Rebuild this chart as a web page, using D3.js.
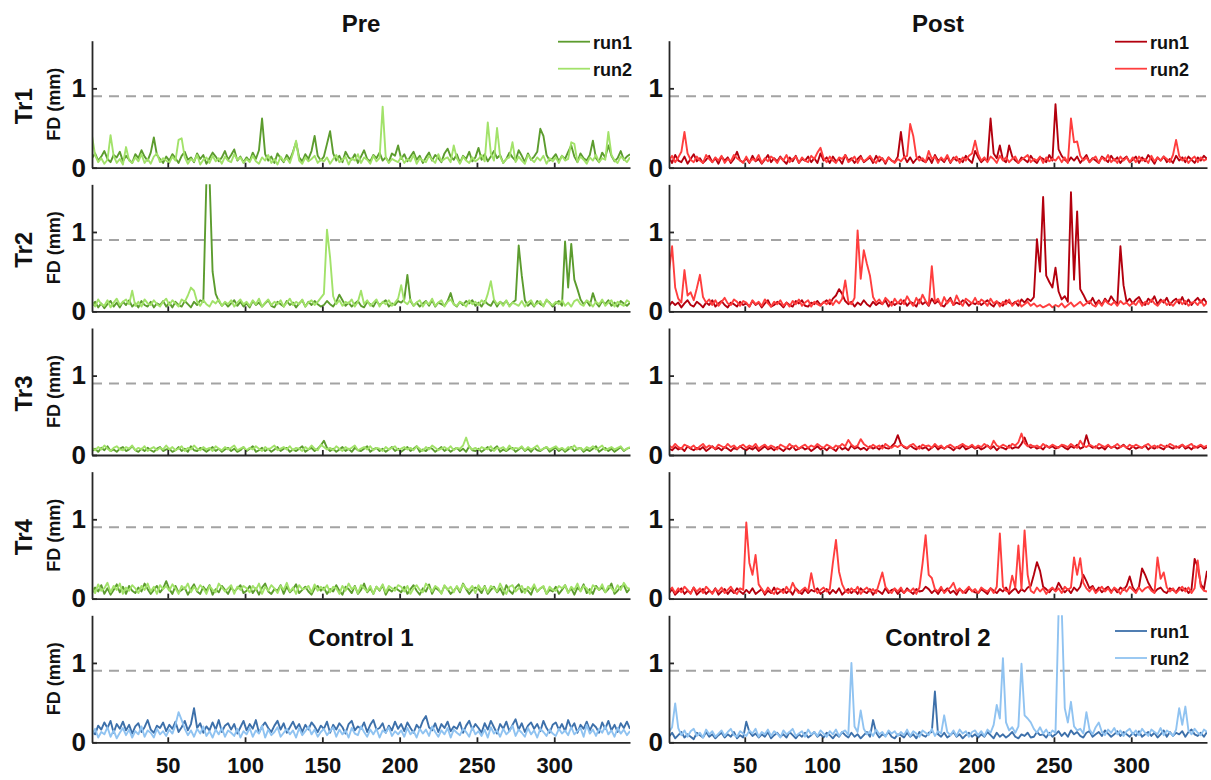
<!DOCTYPE html>
<html>
<head>
<meta charset="utf-8">
<script src="https://cdn.jsdelivr.net/npm/d3@7"></script>
<style>
  body { margin: 0; background: #fff; }
  svg { display: block; font-family: 'Liberation Sans', Arial, Helvetica, sans-serif; font-weight: bold; }
</style>
</head>
<body>
<svg id="chart" width="1211" height="780"></svg>
<script>
// framewise displacement, sampled every 2nd volume (1, 3, ... 349)
// values are in 1/100 mm
const frames = d3.range(1, 350, 2)

const preTr1Run1 = [
  12,18,9,14,21,11,7,16,13,20,8,15,10,6,17,12,22,14,9,19,38,16,11,6,14,
  9,17,12,6,15,20,10,13,7,18,11,16,5,12,19,14,8,13,21,10,16,23,9,14,7,
  13,8,19,11,22,62,17,9,14,6,18,12,7,16,10,20,32,13,8,17,11,21,40,15,9,
  14,30,46,18,9,15,7,20,13,10,17,6,14,22,11,8,16,12,19,9,13,7,18,15,28,
  11,17,8,14,20,10,15,6,13,19,9,16,12,7,18,24,14,10,17,6,15,11,20,8,13,
  25,10,17,8,14,21,12,16,6,11,19,13,9,22,15,7,18,10,14,20,49,40,16,9,12,
  17,8,15,11,20,28,14,7,18,12,9,16,34,12,7,19,13,28,15,8,12,21,10,14,17]
const preTr1Run2 = [
  40,16,7,12,5,10,41,15,6,11,4,26,9,6,13,8,17,6,11,5,14,18,7,12,9,
  6,14,9,35,37,13,5,11,8,16,4,10,13,6,15,8,12,5,14,9,7,17,10,13,6,
  11,7,15,8,5,13,9,16,6,11,4,14,8,12,6,18,34,9,5,13,8,11,15,6,10,
  8,13,5,11,16,7,10,14,4,12,9,17,6,13,10,5,15,8,12,77,13,6,11,9,7,
  14,6,11,8,16,5,12,9,7,15,10,6,17,8,11,13,7,28,12,5,14,9,6,13,8,
  11,16,8,57,18,9,50,14,6,11,13,32,7,14,9,5,16,11,7,13,9,15,5,12,8,
  13,6,15,9,11,32,30,7,14,10,5,13,9,16,7,12,10,45,16,9,6,14,11,7,13]
const postTr1Run1 = [
  13,6,16,9,7,14,5,11,17,8,12,6,10,15,7,12,5,14,9,13,6,11,20,9,7,
  12,6,15,8,11,5,10,16,7,12,8,14,9,5,13,8,15,6,11,9,14,7,12,6,18,
  9,13,6,14,8,11,5,16,9,12,6,11,15,7,10,13,6,15,8,12,5,13,9,7,14,
  45,15,7,13,6,11,14,9,7,13,6,16,9,11,7,14,6,13,9,11,7,15,10,6,21,
  13,7,11,9,62,18,12,28,10,7,28,14,9,6,13,10,7,15,9,6,13,11,7,16,9,
  80,23,15,10,7,13,9,14,6,11,16,7,12,9,6,14,11,7,15,9,13,6,11,14,7,
  10,14,6,13,8,16,11,5,13,9,14,7,11,6,15,9,13,7,14,10,6,13,9,15,11]
const postTr1Run2 = [
  9,15,7,13,20,45,18,10,7,14,9,6,16,11,7,13,9,15,6,11,8,16,12,9,6,
  14,7,11,9,16,6,12,8,14,11,6,13,9,16,7,11,14,6,13,9,7,15,11,19,25,
  12,7,14,9,6,13,11,16,7,10,14,6,13,8,11,15,9,6,14,11,7,13,9,6,11,
  8,13,15,55,40,14,9,12,7,21,11,14,6,13,9,16,7,11,14,6,13,9,15,18,34,
  17,9,13,7,14,11,6,15,9,13,7,11,14,6,10,13,16,7,11,9,14,6,13,8,11,
  9,14,7,13,6,62,32,33,15,9,13,7,11,14,6,13,9,16,7,11,6,14,9,13,7,
  13,7,14,9,11,6,15,8,13,9,14,11,7,16,35,15,9,13,6,11,14,7,13,9,11]

const preTr2Run1 = [
  7,12,5,10,4,9,13,6,11,5,12,8,14,6,10,5,13,8,6,12,5,10,8,13,6,
  11,5,12,8,6,13,9,5,12,8,14,12,165,170,50,22,13,7,11,6,10,14,7,12,6,
  10,5,13,8,11,6,10,14,7,5,12,9,6,13,8,11,5,10,14,6,12,8,13,9,6,
  8,13,9,6,12,21,14,7,11,6,10,13,7,5,12,9,6,13,8,11,14,6,10,8,13,
  11,15,46,13,7,11,6,10,13,7,14,6,11,9,7,13,23,9,6,12,8,13,10,14,7,
  11,6,13,9,7,14,6,12,9,13,7,11,14,83,45,14,7,11,6,13,9,7,14,11,6,
  10,13,7,88,30,85,40,28,15,9,13,7,23,11,6,13,9,14,7,11,6,13,10,7,11]
const preTr2Run2 = [
  12,6,15,9,7,14,5,11,16,8,12,15,9,26,7,12,6,15,10,8,14,9,6,12,16,
  8,14,10,6,15,12,20,30,26,12,7,14,9,6,13,10,15,7,12,9,14,6,11,15,9,
  12,7,14,9,16,6,11,15,8,12,9,14,6,11,16,8,12,9,15,6,11,14,8,12,17,
  22,103,68,19,9,14,7,12,10,15,6,12,26,9,14,7,11,15,6,12,9,14,7,11,16,
  33,12,9,15,7,11,14,6,12,9,16,7,11,14,6,12,15,9,7,12,10,6,14,9,12,
  8,14,10,22,38,15,9,12,7,14,6,11,9,7,13,6,11,14,7,10,13,6,15,10,8,
  12,9,14,7,11,6,13,15,9,7,14,11,6,12,9,15,7,11,14,6,12,9,7,14,11]
const postTr2Run1 = [
  7,12,8,11,5,10,14,8,6,12,9,5,11,8,14,6,10,13,8,5,11,9,6,12,8,
  10,6,13,8,11,5,10,14,6,8,12,9,5,11,8,6,13,10,14,7,6,11,9,13,8,
  11,14,9,16,20,28,22,13,9,12,6,11,8,14,9,6,12,8,11,9,14,6,12,8,11,
  9,14,7,12,10,6,15,9,12,7,16,10,13,8,6,12,17,8,11,9,14,12,7,11,9,
  12,8,11,14,9,6,12,10,7,14,11,9,12,7,15,11,16,13,18,91,50,144,45,37,30,
  55,25,15,19,12,150,40,126,28,21,13,10,17,9,14,8,16,11,19,13,9,82,33,12,16,
  10,15,18,11,8,16,12,19,9,15,11,17,8,13,16,10,18,9,15,8,13,17,11,16,10]
const postTr2Run2 = [
  50,82,30,16,11,52,20,24,14,29,46,18,11,15,8,14,7,12,17,10,8,15,12,7,13,
  11,6,14,9,12,7,15,10,6,12,9,14,7,11,6,13,9,15,7,11,14,6,12,9,7,
  12,9,15,8,14,10,16,39,12,9,17,102,41,77,60,45,18,11,15,9,17,13,7,16,10,
  15,9,19,12,7,17,10,21,13,8,57,12,16,7,18,10,15,8,20,12,7,16,13,10,17,
  9,15,12,7,16,10,13,6,12,9,15,7,11,14,6,9,12,7,10,6,8,5,7,9,5,
  8,6,10,5,8,11,6,9,12,7,10,13,8,6,12,7,14,10,8,12,7,13,9,11,7,
  11,8,14,7,12,9,15,10,7,12,14,8,11,7,12,15,9,13,7,11,12,8,14,7,11]

const preTr3Run1 = [
  5,8,4,9,6,11,5,7,4,8,10,5,7,11,6,4,8,5,9,6,4,8,10,5,7,
  8,4,6,10,5,8,4,11,6,5,9,7,4,7,10,5,8,4,7,9,5,8,4,6,10,
  5,8,11,4,6,9,5,8,4,7,10,5,8,9,4,7,5,8,11,4,7,9,5,8,12,
  18,9,5,8,4,7,10,5,8,4,9,6,5,8,11,4,7,9,5,8,4,7,10,5,8,
  4,7,10,5,8,11,4,7,5,9,8,4,7,10,5,8,4,7,9,5,8,4,11,6,5,
  8,4,7,10,5,8,11,4,7,5,8,9,4,7,10,5,8,4,9,6,5,8,10,4,7,
  9,5,8,4,7,10,5,8,9,4,7,5,8,11,4,7,9,5,8,4,7,10,5,8,9]
const preTr3Run2 = [
  9,6,10,7,12,8,5,9,11,7,6,10,8,12,6,9,7,11,5,8,10,6,9,7,12,
  7,10,6,8,11,5,9,7,12,8,6,10,7,9,5,11,8,6,10,7,9,12,6,8,10,
  6,9,7,11,8,5,10,7,9,12,6,8,10,7,11,6,9,8,5,10,7,12,8,6,13,
  10,7,9,6,11,8,5,10,7,9,12,6,8,10,7,11,6,9,8,5,10,7,9,11,6,
  8,10,7,9,6,11,8,5,10,7,12,9,6,8,10,7,11,6,9,8,12,22,10,7,9,
  6,10,8,7,11,5,9,8,10,6,12,7,9,8,11,6,10,7,9,12,6,8,10,7,9,
  11,7,9,6,10,8,12,7,9,6,10,8,11,7,9,12,6,8,10,7,9,11,6,8,10]
const postTr3Run1 = [
  8,6,10,7,9,5,11,8,6,9,7,10,5,8,11,7,9,6,10,8,5,9,7,11,8,
  6,9,7,10,5,8,11,7,9,6,10,8,5,9,7,11,6,8,10,7,9,5,8,11,7,
  9,6,10,8,5,11,7,9,6,12,8,10,7,9,6,11,8,10,7,12,9,8,11,15,25,
  14,10,8,12,9,7,11,8,10,6,9,12,7,10,8,11,9,6,10,8,12,7,9,11,8,
  10,7,9,12,8,11,6,10,9,7,12,8,10,9,14,22,12,9,11,8,10,7,12,9,11,
  8,10,12,9,7,11,9,13,8,10,25,12,9,11,8,10,7,12,9,11,8,10,13,9,7,
  11,8,10,9,12,7,10,8,11,9,7,12,10,8,11,9,13,8,10,7,11,9,12,8,10]
const postTr3Run2 = [
  12,9,14,10,8,13,11,9,12,7,11,14,9,12,10,8,13,11,9,14,10,12,8,11,13,
  9,12,10,14,8,11,13,9,12,10,7,13,11,9,14,10,12,8,11,13,9,12,10,14,11,
  9,13,11,8,12,10,14,11,19,13,10,12,20,14,11,9,13,10,12,8,14,11,9,12,10,
  13,11,9,12,14,10,8,13,11,12,9,14,10,12,8,11,13,10,9,12,14,11,10,13,9,
  12,10,14,11,9,18,12,10,13,11,9,14,12,16,27,15,11,13,10,12,9,14,11,10,13,
  11,9,13,12,10,14,11,9,18,12,10,13,11,9,14,12,10,13,9,11,14,10,12,9,13,
  10,13,11,9,12,14,10,12,9,13,11,10,14,12,9,11,13,10,12,14,9,11,13,10,12]

const preTr4Run1 = [
  7,14,9,17,6,13,5,11,18,8,15,6,16,10,7,14,9,19,12,6,11,16,8,13,22,
  12,6,16,8,11,14,5,12,18,9,6,15,10,17,5,12,8,16,11,6,14,9,13,17,7,
  10,16,7,13,5,14,19,9,6,12,10,17,6,15,8,12,18,7,11,15,9,5,13,16,10,
  14,6,12,9,17,10,5,15,12,7,16,6,11,19,8,13,6,15,10,17,5,12,9,14,11,
  8,15,6,12,17,10,5,13,9,18,6,14,11,7,16,12,6,10,15,8,19,12,6,11,14,
  12,7,16,6,11,15,8,13,5,17,10,6,14,18,8,12,10,5,16,9,13,15,6,11,9,
  15,6,11,17,8,13,5,14,10,18,7,12,6,16,11,14,8,12,19,6,10,15,17,8,13]
const preTr4Run2 = [
  15,7,18,10,13,20,8,16,11,19,6,14,10,17,13,7,16,11,19,9,15,6,17,12,16,
  10,18,13,6,16,12,19,8,15,10,17,13,6,16,11,8,19,14,9,13,17,6,15,11,16,
  13,8,16,11,19,6,15,10,17,13,7,16,11,20,9,14,6,17,12,13,16,8,18,10,15,
  11,17,8,15,13,6,16,10,19,12,15,7,17,13,9,16,6,15,11,18,8,16,13,10,17,
  15,9,16,6,13,17,11,8,19,14,9,16,13,6,17,11,15,8,16,10,18,13,11,16,7,
  17,11,15,8,16,13,9,19,11,6,15,17,9,13,16,7,15,11,18,9,13,16,6,15,11,
  10,16,13,17,7,15,11,19,9,16,13,6,17,14,11,18,8,16,13,9,17,11,20,14,12]
const postTr4Run1 = [
  7,12,5,9,13,6,10,7,14,5,9,12,6,10,7,13,5,9,12,6,11,7,13,9,6,
  11,7,13,6,9,12,5,10,7,14,6,9,12,7,11,5,13,9,6,12,7,11,9,13,6,
  9,12,6,11,7,13,5,9,12,7,11,6,13,9,7,12,5,11,9,6,13,7,11,12,6,
  11,7,13,9,6,12,9,10,15,12,7,11,6,12,9,13,7,10,5,12,9,7,13,10,8,
  7,12,9,6,13,10,7,12,9,14,6,10,13,7,12,9,14,16,30,46,35,15,12,8,13,
  10,20,13,8,12,7,14,10,15,30,22,13,16,9,14,8,12,15,9,13,8,14,11,16,28,
  14,9,15,38,30,20,13,8,12,14,9,7,13,11,8,14,10,13,7,12,50,40,18,12,35]
const postTr4Run2 = [
  10,14,7,13,8,15,11,6,14,9,13,7,15,11,6,12,9,14,7,11,15,9,6,13,11,
  96,45,30,55,18,12,7,14,9,6,13,11,7,15,9,20,12,7,11,14,9,32,13,7,11,
  14,9,12,45,74,34,18,10,7,13,9,15,6,11,14,9,12,7,20,33,15,10,7,13,9,
  14,7,11,9,13,6,14,44,80,30,26,12,9,15,7,11,14,20,9,13,7,11,15,9,12,
  7,14,11,9,13,7,15,82,15,10,9,29,14,67,12,86,30,10,7,14,9,13,6,11,14,
  9,13,7,15,11,14,52,30,51,20,13,9,14,7,11,15,9,13,7,14,11,6,13,9,15,
  11,7,14,9,13,15,10,7,52,25,33,14,9,13,7,11,15,9,14,7,13,48,15,10,9]

const control1Run1 = [
  14,10,21,16,25,18,27,12,23,17,26,15,22,11,20,24,13,19,28,16,12,21,18,25,14,
  22,17,26,13,19,27,15,23,43,18,24,12,20,15,25,16,28,13,21,24,16,23,11,19,27,
  15,23,17,28,12,20,25,18,13,21,27,16,24,12,19,26,17,23,13,22,16,25,20,13,21,
  17,26,12,22,16,24,19,11,23,27,15,20,17,25,13,22,28,16,18,24,12,21,15,26,17,
  23,14,25,18,12,22,17,27,33,19,15,24,13,23,18,26,14,20,17,25,12,21,27,16,23,
  18,12,24,16,27,19,11,23,17,26,14,22,29,16,24,13,21,25,17,23,14,27,18,12,22,
  25,16,23,14,28,18,24,12,22,17,26,15,23,19,12,25,17,27,15,22,13,24,18,26,17]
const control1Run2 = [
  9,17,6,13,10,19,7,15,5,12,18,9,16,6,14,10,20,7,15,12,6,17,10,14,8,
  16,11,22,38,28,17,9,15,7,17,11,20,8,14,6,16,10,18,7,15,12,8,17,6,14,
  10,18,7,15,11,21,6,16,9,13,19,7,12,17,10,15,6,18,9,14,20,10,16,7,13,
  17,9,14,19,7,16,10,15,6,18,11,9,20,13,7,16,10,17,6,15,12,19,8,14,10,
  15,7,18,10,14,6,17,11,16,8,20,13,7,15,10,18,6,16,12,9,17,13,7,19,10,
  14,8,16,6,19,11,15,7,17,10,14,21,8,16,12,7,18,10,15,6,17,13,8,16,11,
  8,17,11,15,9,19,10,14,18,7,22,11,16,8,17,12,20,10,15,7,18,11,16,9,14]
const control2Run1 = [
  7,12,5,9,13,6,10,7,4,12,9,6,13,7,10,5,9,12,6,10,7,13,5,9,6,
  26,13,8,11,6,10,7,13,5,9,12,7,10,6,13,9,5,10,7,12,6,9,13,7,10,
  6,12,9,5,10,7,13,9,6,12,7,10,5,9,13,7,28,12,6,10,8,13,7,5,10,
  9,6,12,7,10,5,13,9,7,12,13,64,10,7,12,6,9,13,7,10,5,9,12,7,10,
  6,10,7,13,9,5,12,7,10,6,9,13,7,5,10,8,12,6,7,13,9,10,6,12,7,
  10,14,8,12,7,15,10,13,8,6,12,14,7,10,13,8,15,11,7,10,14,8,13,10,7,
  12,8,14,7,10,13,8,12,6,10,15,7,13,8,12,10,14,7,13,16,10,8,12,7,13]
const control2Run2 = [
  13,19,49,18,9,15,7,14,17,8,12,6,16,10,14,7,11,15,8,13,17,9,7,14,11,
  8,15,11,17,7,13,10,16,8,14,11,6,15,10,13,17,8,11,14,7,16,10,13,8,15,
  11,7,14,10,16,8,13,15,9,100,20,13,40,17,10,14,8,16,10,13,7,15,11,14,8,
  13,9,16,8,14,11,7,15,12,9,17,8,14,11,34,13,9,15,8,16,11,14,7,13,15,
  9,14,8,16,12,22,47,30,106,25,15,19,12,20,99,34,30,25,17,12,19,11,16,9,15,
  12,165,170,43,25,51,20,15,17,11,38,16,10,19,25,13,9,16,12,18,10,15,8,14,17,
  10,15,9,17,12,8,16,13,10,18,9,15,12,8,16,43,22,45,15,10,17,12,9,16,13]

const xTicks = [50, 100, 150, 200, 250, 300]
const yTicks = [0, 1]
const fdLimit = 0.9
const rowNames = ['Tr1', 'Tr2', 'Tr3', 'Tr4', '']
const runNames = ['run1', 'run2']

const green = ['#5c9c2e', '#a2e26a']
const red = ['#b3000e', '#ff3e3e']
const blue = ['#3d70aa', '#90c3f1']

const panels = [
  {row: 0, col: 0, runs: [preTr1Run1, preTr1Run2], colors: green, title: 'Pre', legend: {x: 466, y: 1}},
  {row: 0, col: 1, runs: [postTr1Run1, postTr1Run2], colors: red, title: 'Post', legend: {x: 446, y: 1}},
  {row: 1, col: 0, runs: [preTr2Run1, preTr2Run2], colors: green},
  {row: 1, col: 1, runs: [postTr2Run1, postTr2Run2], colors: red},
  {row: 2, col: 0, runs: [preTr3Run1, preTr3Run2], colors: green},
  {row: 2, col: 1, runs: [postTr3Run1, postTr3Run2], colors: red},
  {row: 3, col: 0, runs: [preTr4Run1, preTr4Run2], colors: green},
  {row: 3, col: 1, runs: [postTr4Run1, postTr4Run2], colors: red},
  {row: 4, col: 0, runs: [control1Run1, control1Run2], colors: blue, inner: 'Control 1'},
  {row: 4, col: 1, runs: [control2Run1, control2Run2], colors: blue, inner: 'Control 2', legend: {x: 446, y: 15.7}}
]

let colLeft = [92, 669]
let width = 538
let height = 127
let rowTop = r => 40.7 + r * 143.65
let axisColor = '#262626'

let svg = d3.select('#chart')

let x = d3.scaleLinear().domain([1, 349]).range([0, width])
let y = d3.scaleLinear().domain([0, 1.6]).range([height, 0])

let line = d3.line()
    .x((d, i) => x(frames[i]))
    .y(d => y(d / 100))

panels.forEach((p, n) => {
  let g = svg.append('g')
      .attr('transform', 'translate(' + colLeft[p.col] + ',' + rowTop(p.row) + ')')

  g.append('clipPath')
      .attr('id', 'clip' + n)
    .append('rect')
      .attr('x', 0).attr('y', 0)
      .attr('width', width).attr('height', height)

  // 0.9 mm threshold
  g.append('line')
      .attr('x1', 0).attr('x2', width)
      .attr('y1', y(fdLimit)).attr('y2', y(fdLimit))
      .attr('stroke', '#a3a3a3')
      .attr('stroke-width', 2)
      .attr('stroke-dasharray', '10,7')

  p.runs.forEach((run, k) => {
    g.append('path')
        .datum(run)
        .attr('clip-path', 'url(#clip' + n + ')')
        .attr('fill', 'none')
        .attr('stroke', p.colors[k])
        .attr('stroke-width', 1.9)
        .attr('stroke-linejoin', 'round')
        .attr('d', line)
  })

  let yAxis = g.append('g')
      .call(d3.axisLeft(y).tickValues(yTicks).tickSize(-5).tickSizeOuter(0).tickPadding(6).tickFormat(d3.format('d')))
  let xAxis = g.append('g')
      .attr('transform', 'translate(0,' + height + ')')
      .call(d3.axisBottom(x).tickValues(xTicks).tickSize(-5).tickSizeOuter(0).tickPadding(15))

  yAxis.selectAll('text').attr('font-size', 26)
  xAxis.selectAll('text').attr('font-size', 22)
  if (p.row < 4) xAxis.selectAll('text').remove()

  ;[yAxis, xAxis].forEach(a => {
    a.attr('font-family', null).attr('font-size', null)
    a.selectAll('path, line').attr('stroke', axisColor).attr('stroke-width', 1.8)
    a.selectAll('text').attr('fill', '#111')
  })

  if (p.col === 0) {
    g.append('text')
        .attr('transform', 'translate(-32,' + (height / 2) + ') rotate(-90)')
        .attr('text-anchor', 'middle')
        .attr('font-size', 18)
        .attr('fill', '#111')
        .text('FD (mm)')
    if (rowNames[p.row]) {
      g.append('text')
          .attr('transform', 'translate(-60,' + (height / 2 + 2) + ') rotate(-90)')
          .attr('text-anchor', 'middle')
          .attr('font-size', 24)
          .attr('fill', '#111')
          .text(rowNames[p.row])
    }
  }

  if (p.title) {
    g.append('text')
        .attr('x', width / 2)
        .attr('y', -9)
        .attr('text-anchor', 'middle')
        .attr('font-size', 24)
        .attr('fill', '#111')
        .text(p.title)
  }
  if (p.inner) {
    g.append('text')
        .attr('x', width / 2)
        .attr('y', 31)
        .attr('text-anchor', 'middle')
        .attr('font-size', 24)
        .attr('fill', '#111')
        .text(p.inner)
  }

  if (p.legend) {
    let leg = g.append('g')
        .attr('transform', 'translate(' + p.legend.x + ',' + p.legend.y + ')')
    runNames.forEach((name, k) => {
      leg.append('line')
          .attr('x1', 0).attr('x2', 32)
          .attr('y1', k * 27).attr('y2', k * 27)
          .attr('stroke', p.colors[k])
          .attr('stroke-width', 1.8)
      leg.append('text')
          .attr('x', 35)
          .attr('y', k * 27 + 7)
          .attr('font-size', 18)
          .attr('fill', '#111')
          .text(name)
    })
  }
})
</script>
</body>
</html>
